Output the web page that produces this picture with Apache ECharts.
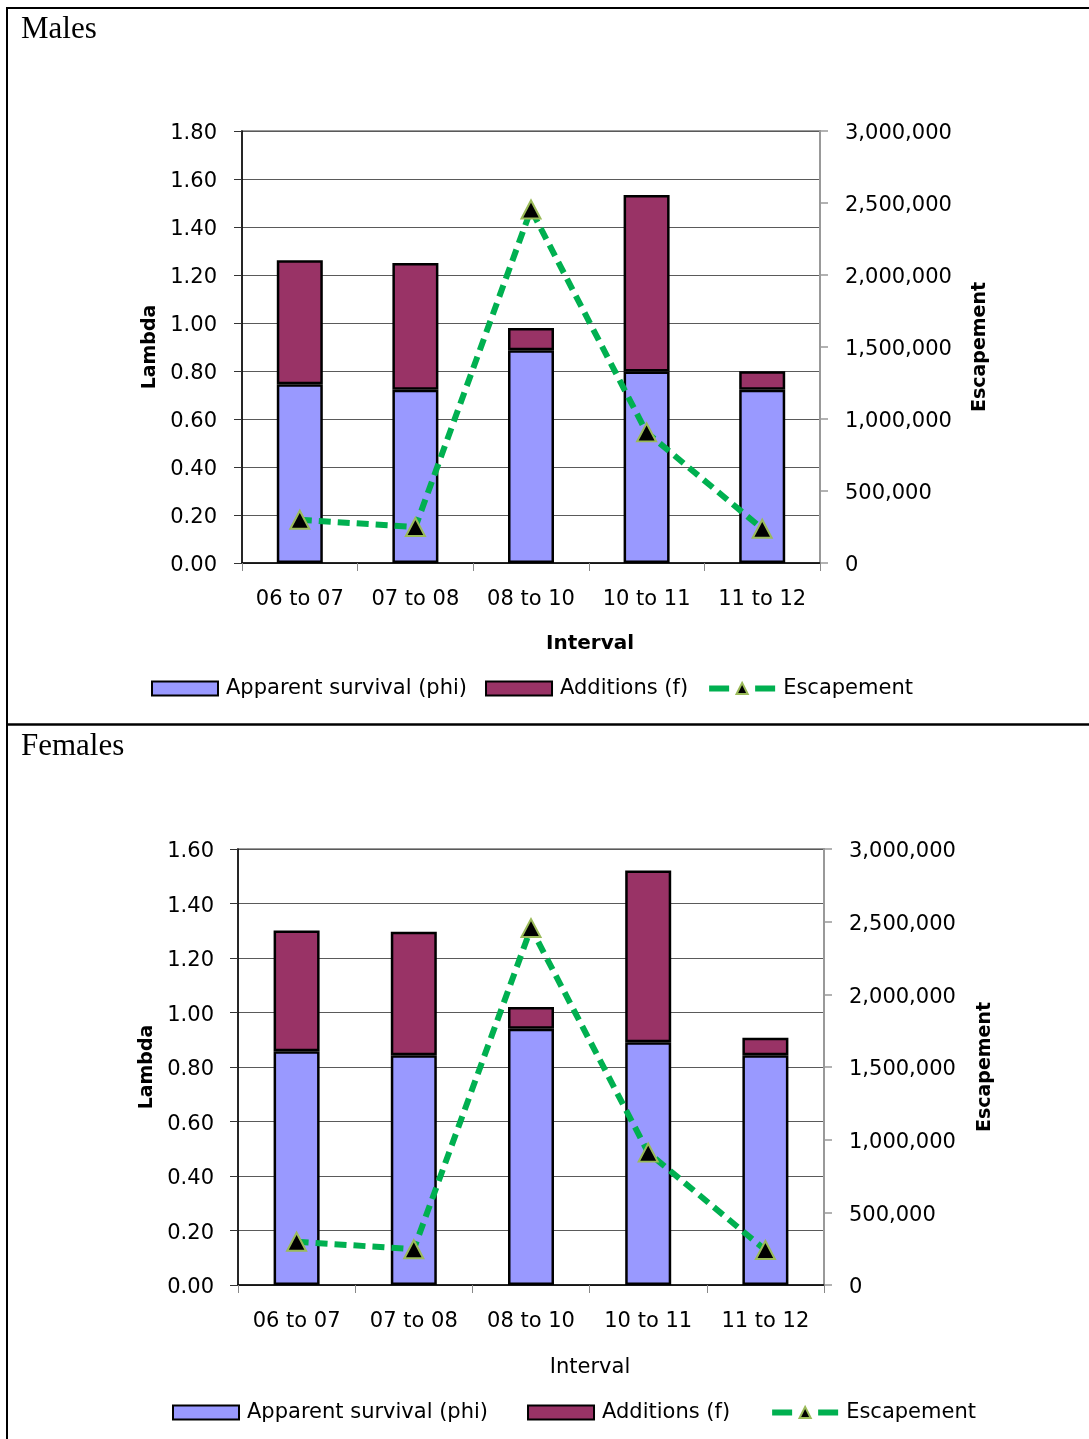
<!DOCTYPE html>
<html>
<head>
<meta charset="utf-8">
<title>Lambda and escapement by interval</title>
<script src="https://cdn.jsdelivr.net/npm/echarts@6/dist/echarts.min.js"></script>
<style>
  html, body { margin: 0; padding: 0; background: #fff; }
  #chart { width: 1089px; height: 1439px; }
</style>
</head>
<body>
<div id="chart"></div>
<script>
// Intervals between sampling years
const intervals = ['06 to 07', '07 to 08', '08 to 10', '10 to 11', '11 to 12'];

// Males: apparent survival (phi) and additions (f) stack to lambda
const malePhi = [0.745, 0.722, 0.886, 0.798, 0.722];
const maleAdd = [0.516, 0.528, 0.093, 0.735, 0.077];
const maleEscapement = [300000, 250000, 2455000, 907000, 238000];

// Females
const femalePhi = [0.858, 0.843, 0.940, 0.891, 0.843];
const femaleAdd = [0.443, 0.453, 0.080, 0.630, 0.064];
const femaleEscapement = [298000, 246000, 2456000, 911000, 241000];

// Axis ranges
const maleLambdaMax = 1.8;
const femaleLambdaMax = 1.6;
const lambdaStep = 0.2;
const escMax = 3000000;
const escStep = 500000;

const FONT = 'DejaVu Sans';
const PHI = 'Apparent survival (phi)';
const ADD = 'Additions (f)';
const ESC = 'Escapement';

function withCommas(v) {
  return String(Math.round(v)).replace(/\B(?=(\d{3})+(?!\d))/g, ',');
}

// tick label text, nudged down a little so it sits centred on its gridline
const tickRich = { t: { fontFamily: FONT, fontSize: 21, color: '#000', padding: [6, 0, 0, 0] } };

function lambdaAxis(gridIndex, max, gap, margin) {
  return {
    type: 'value', gridIndex: gridIndex, position: 'left',
    min: 0, max: max, interval: lambdaStep,
    name: 'Lambda', nameLocation: 'middle', nameRotate: 90, nameGap: gap,
    nameTextStyle: { fontFamily: FONT, fontSize: 19, fontWeight: 'bold', color: '#000' },
    axisLine: { show: true, lineStyle: { color: '#000', width: 1.5 } },
    axisTick: { show: true, inside: false, length: 8, lineStyle: { color: '#333' } },
    axisLabel: { margin: margin, rich: tickRich,
                 formatter: v => '{t|' + v.toFixed(2) + '}' },
    splitLine: { show: true, lineStyle: { color: '#5a5a5a', width: 1 } }
  };
}

function escAxis(gridIndex, gap) {
  return {
    type: 'value', gridIndex: gridIndex, position: 'right',
    min: 0, max: escMax, interval: escStep,
    name: 'Escapement', nameLocation: 'middle', nameRotate: 90, nameGap: gap,
    nameTextStyle: { fontFamily: FONT, fontSize: 19, fontWeight: 'bold', color: '#000' },
    axisLine: { show: true, lineStyle: { color: '#999', width: 2 } },
    axisTick: { show: true, inside: false, length: 8, lineStyle: { color: '#999', width: 1.5 } },
    axisLabel: { margin: 25, rich: tickRich,
                 formatter: v => '{t|' + withCommas(v) + '}' },
    splitLine: { show: false }
  };
}

function intervalAxis(gridIndex, gap, bold) {
  return {
    type: 'category', gridIndex: gridIndex, data: intervals, boundaryGap: true,
    name: 'Interval', nameLocation: 'middle', nameGap: gap,
    nameTextStyle: { fontFamily: FONT, fontSize: bold ? 20 : 21,
                     fontWeight: bold ? 'bold' : 'normal', color: '#000',
                     padding: [0, 0, 0, 118] },
    axisLine: { show: true, lineStyle: { color: '#000', width: 1.5 } },
    axisTick: { show: true, alignWithLabel: false, length: 8, lineStyle: { color: '#888' } },
    axisLabel: { margin: 26, fontFamily: FONT, fontSize: 21, color: '#000' },
    splitLine: { show: false }
  };
}

function barSeries(name, color, data, axisIndex) {
  return {
    name: name, type: 'bar', stack: 'lambda' + axisIndex,
    xAxisIndex: axisIndex, yAxisIndex: axisIndex * 2,
    barWidth: 46, data: data,
    itemStyle: { color: color, borderColor: '#000', borderWidth: 2.5 }
  };
}

function escSeries(data, axisIndex) {
  return {
    name: ESC, type: 'line', xAxisIndex: axisIndex, yAxisIndex: axisIndex * 2 + 1,
    data: data, z: 5,
    symbol: 'triangle', symbolSize: [19, 18],
    lineStyle: { color: '#00B050', width: 6, type: [12, 7], cap: 'butt' },
    itemStyle: { color: '#000', borderColor: '#9BBB59', borderWidth: 2 }
  };
}

function legend(left, top, gap) {
  return {
    left: left, top: top, itemGap: gap, itemWidth: 66, itemHeight: 14,
    data: [
      { name: PHI, icon: 'rect' },
      { name: ADD, icon: 'rect' },
      { name: ESC, lineStyle: { width: 6, type: [20, 26], color: '#00B050' } }
    ],
    textStyle: { fontFamily: FONT, fontSize: 21, color: '#000', padding: [0, 0, 0, 3] }
  };
}

const chart = echarts.init(document.getElementById('chart'), null, { renderer: 'canvas' });

chart.setOption({
  animation: false,
  backgroundColor: '#fff',
  graphic: [
    // page frame and panel divider
    { type: 'line', shape: { x1: 7, y1: 8, x2: 1089, y2: 8 }, style: { stroke: '#000', lineWidth: 2 } },
    { type: 'line', shape: { x1: 7, y1: 7, x2: 7, y2: 1439 }, style: { stroke: '#000', lineWidth: 2 } },
    { type: 'line', shape: { x1: 7, y1: 724.5, x2: 1089, y2: 724.5 }, style: { stroke: '#000', lineWidth: 2.5 } },
    { type: 'text', left: 21, top: 14,
      style: { text: 'Males', font: '31px "Liberation Serif"', fill: '#000' } },
    { type: 'text', left: 21, top: 731,
      style: { text: 'Females', font: '31px "Liberation Serif"', fill: '#000' } }
  ],
  legend: [legend(146, 673, 18), legend(167, 1397, 39)],
  grid: [
    { left: 242, top: 131, width: 578, height: 432, show: true,
      borderColor: '#999', borderWidth: 2, backgroundColor: 'transparent' },
    { left: 238, top: 849, width: 586, height: 436, show: true,
      borderColor: '#999', borderWidth: 2, backgroundColor: 'transparent' }
  ],
  xAxis: [intervalAxis(0, 71, true), intervalAxis(1, 72, false)],
  yAxis: [
    lambdaAxis(0, maleLambdaMax, 76, 25), escAxis(0, 151),
    lambdaAxis(1, femaleLambdaMax, 77, 24), escAxis(1, 152)
  ],
  series: [
    barSeries(PHI, '#9999FF', malePhi, 0),
    barSeries(ADD, '#993366', maleAdd, 0),
    escSeries(maleEscapement, 0),
    barSeries(PHI, '#9999FF', femalePhi, 1),
    barSeries(ADD, '#993366', femaleAdd, 1),
    escSeries(femaleEscapement, 1)
  ]
});
</script>
</body>
</html>
